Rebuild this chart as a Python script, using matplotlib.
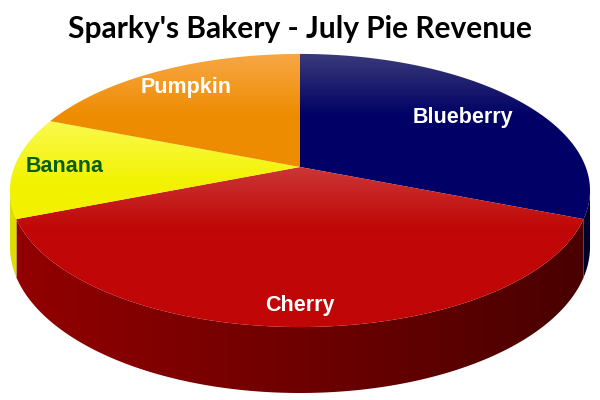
import numpy as np
import matplotlib
matplotlib.use('Agg')
import matplotlib.pyplot as plt
from matplotlib.colors import LinearSegmentedColormap
from matplotlib.patches import Polygon

# data, clockwise from 12 o'clock
flavors = ['Blueberry', 'Cherry', 'Banana', 'Pumpkin']
revenue = [31, 38, 12, 19]

top_colors = [('#3c3c7a', '#000066'), ('#cc3838', '#c00606'),
              ('#fafa50', '#f2f200'), ('#f8a848', '#ee8c00')]
side_colors = [('#00004a', '#00002c'), ('#940000', '#480000'),
               ('#dede00', '#c4c400'), ('#c86c00', '#9a5000')]
label_colors = ['white', 'white', '#0b5e0b', 'white']
label_pos = [(463, 282), (300, 95), (65, 233), (186, 312)]

# perspective of the disc, in pixels (y up)
CX, A, B, C, K = 300, 285.7, 172.6, 233, 0.172
DEPTH = 54.6
FADE = 65


def project(theta_deg, r=1.0, drop=0.0):
    t = np.radians(theta_deg)
    u, v = r * np.cos(t), r * np.sin(t)
    w = 1 + K * v
    return CX + A * u / w, (B * v + C - drop) / w


def fill_gradient(ax, verts, c0, c1, vertical, z):
    poly = Polygon(verts, closed=True, facecolor='none', edgecolor='none')
    ax.add_patch(poly)
    cmap = LinearSegmentedColormap.from_list('g', [c0, c1])
    vx = np.array(verts)
    x0, x1 = vx[:, 0].min() - 2, vx[:, 0].max() + 2
    y0, y1 = vx[:, 1].min() - 2, vx[:, 1].max() + 2
    if vertical:
        y = np.linspace(y0, y1, 256)
        grad = np.clip((y1 - y) / FADE, 0, 1)[:, None]
    else:
        grad = np.linspace(0, 1, 256)[None, :]
        x0, x1 = 5, 595
    im = ax.imshow(grad, cmap=cmap, extent=(x0, x1, y0, y1), origin='lower',
                   aspect='auto', zorder=z, interpolation='bilinear',
                   vmin=0, vmax=1)
    im.set_clip_path(poly)


fig = plt.figure(figsize=(6, 4), dpi=100)
ax = fig.add_axes([0, 0, 1, 1])
ax.axis('off')

total = float(sum(revenue))
spans = [360.0 * r / total for r in revenue]
front = np.degrees(np.arcsin(K))
f0, f1 = 180 + front, 360 - front

start = 90.0
for i, span in enumerate(spans):
    end = start - span
    # top face
    th = np.linspace(start, end, 200)
    xs, ys = project(th)
    verts = [(CX, C)] + list(zip(xs, ys))
    fill_gradient(ax, verts, top_colors[i][0], top_colors[i][1], True, 2)
    # visible side
    lo = end % 360
    hi = lo + span
    a, b = max(lo, f0), min(hi, f1)
    if a < b:
        th = np.linspace(a, b, 200)
        tx, ty = project(th)
        bx, by = project(th[::-1], drop=DEPTH)
        verts = list(zip(tx, ty)) + list(zip(bx, by))
        fill_gradient(ax, verts, side_colors[i][0], side_colors[i][1], False, 1)
    start = end

for name, pos, col in zip(flavors, label_pos, label_colors):
    ax.text(pos[0], pos[1], name, ha='center', va='center', color=col,
            fontsize=15.5, fontweight='bold', family='Liberation Sans', zorder=5)

ax.text(300, 362, "Sparky's Bakery - July Pie Revenue", ha='center',
        va='baseline', fontsize=21.5, fontweight='bold', family='Lato', zorder=5)

ax.set_xlim(0, 600)
ax.set_ylim(0, 400)
fig.savefig('out.png', dpi=100, facecolor='white')
